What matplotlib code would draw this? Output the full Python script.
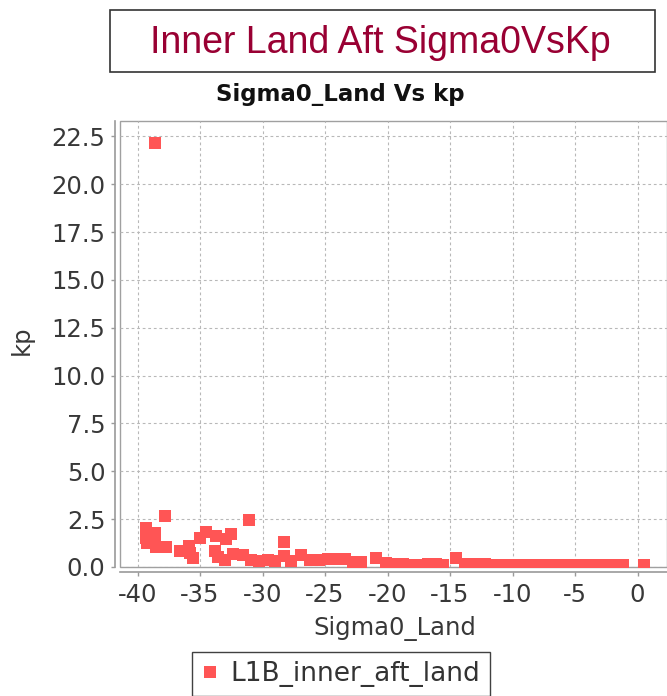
import matplotlib
matplotlib.use("Agg")
import matplotlib.pyplot as plt
from matplotlib import font_manager
from matplotlib.patches import Rectangle

# kp vs Sigma0 for the inner aft land beam
sigma0 = [
    -38.6, -37.8, -39.3, -39.3, -39.2, -38.6, -38.6, -38.5, -37.7,
    -36.6, -35.9, -35.8, -35.6, -35.0, -34.5, -33.7, -32.9, -32.5, -31.1,
    -33.8, -33.6, -33.0, -32.4, -31.6, -30.9, -30.3, -29.6, -29.0,
    -28.3, -28.3, -27.7, -26.9, -26.2, -25.5, -24.8, -24.1, -23.4,
    -22.8, -22.1, -20.9, -20.1, -19.4, -18.8, -18.1, -17.4, -16.8,
    -16.1, -15.6, -14.5, -13.8, -12.9, -12.2, -11.5, -10.8, -10.1,
    -9.4, -8.7, -8.0, -7.3, -6.6, -5.9, -5.2, -4.5, -3.8, -3.1,
    -2.4, -1.7, -1.2, 0.55,
]
kp = [
    22.16, 2.64, 2.04, 1.52, 1.26, 1.78, 1.30, 1.05, 1.05,
    0.85, 1.10, 0.75, 0.45, 1.52, 1.83, 1.62, 1.46, 1.73, 2.46,
    0.84, 0.50, 0.35, 0.68, 0.65, 0.35, 0.30, 0.35, 0.30,
    1.30, 0.60, 0.30, 0.63, 0.35, 0.35, 0.40, 0.40, 0.40,
    0.28, 0.28, 0.47, 0.20, 0.16, 0.16, 0.10, 0.10, 0.17,
    0.17, 0.10, 0.45, 0.17, 0.17, 0.17, 0.08, 0.08, 0.08,
    0.08, 0.08, 0.08, 0.08, 0.08, 0.08, 0.08, 0.08, 0.08, 0.08,
    0.08, 0.08, 0.08, 0.10,
]
x_ticks = [-40, -35, -30, -25, -20, -15, -10, -5, 0]
y_ticks = [0.0, 2.5, 5.0, 7.5, 10.0, 12.5, 15.0, 17.5, 20.0, 22.5]
series_name = "L1B_inner_aft_land"

plt.rcParams["font.family"] = ["DejaVu Sans"]
plt.rcParams["axes.unicode_minus"] = False

W, H = 667, 696
fig = plt.figure(figsize=(W / 100, H / 100), dpi=100)
ax = fig.add_axes([120 / W, 1 - 567 / H, 547 / W, 446 / H])

ax.plot(sigma0, kp, linestyle="none", marker="s", markersize=8,
        markeredgewidth=0, color="#ff5555", label=series_name, zorder=3)

ax.set_xlim(-41.4, 2.36)
ax.set_ylim(0, 23.3)
ax.set_xticks(x_ticks)
ax.set_xticklabels([str(t) for t in x_ticks])
ax.set_yticks(y_ticks)
ax.set_yticklabels([f"{t:.1f}" for t in y_ticks])

ax.grid(True, color="#b8b8b8", linestyle=(0, (2.5, 2.5)), linewidth=0.8)
ax.set_axisbelow(True)

# plot outline + offset axis lines (jfreechart look)
ax.patch.set_edgecolor("#a0a0a0")
ax.patch.set_linewidth(1.0)
for s in ["top", "right"]:
    ax.spines[s].set_visible(False)
for s in ["left", "bottom"]:
    ax.spines[s].set_position(("outward", 3.6))
    ax.spines[s].set_color("#9a9a9a")
    ax.spines[s].set_linewidth(1.2)

ax.tick_params(axis="both", colors="#9a9a9a", length=3, width=1,
               labelsize=17.5, labelcolor="#383838", pad=4)
ax.tick_params(axis="x", pad=5)

ax.set_xlabel("Sigma0_Land", fontsize=17.5, color="#383838")
ax.set_ylabel("kp", fontsize=17.5, color="#383838")
ax.xaxis.set_label_coords((395 - 120) / 547, (567 - 616) / 446)
ax.yaxis.set_label_coords((34 - 120) / 547, (567 - 340) / 446)

fig.text(340 / W, 1 - 95 / H, "Sigma0_Land Vs kp", fontsize=16.5,
         fontweight="bold", color="#111111", ha="center", va="center")

# boxed heading
fig.patches.append(Rectangle((110 / W, 1 - 72 / H), 545 / W, 62 / H,
                             transform=fig.transFigure, fill=False,
                             edgecolor="#333333", linewidth=1.2))
names = {f.name for f in font_manager.fontManager.ttflist}
if "Liberation Sans Narrow" in names:
    head_font, head_size = "Liberation Sans Narrow", 33
else:
    head_font, head_size = "Liberation Sans", 27
fig.text(380 / W, 1 - 43 / H, "Inner Land Aft Sigma0VsKp", family=head_font,
         fontsize=head_size, color="#990033", ha="center", va="center")

leg = ax.legend(loc="center", bbox_to_anchor=(341 / W, 1 - 674 / H),
                bbox_transform=fig.transFigure, fontsize=19, frameon=True,
                fancybox=False, edgecolor="#111111", handlelength=0.6,
                handletextpad=0.5, borderpad=0.35, borderaxespad=0)
leg.get_frame().set_linewidth(1.0)
for t in leg.get_texts():
    t.set_color("#333333")

fig.savefig("out.png", dpi=100)
